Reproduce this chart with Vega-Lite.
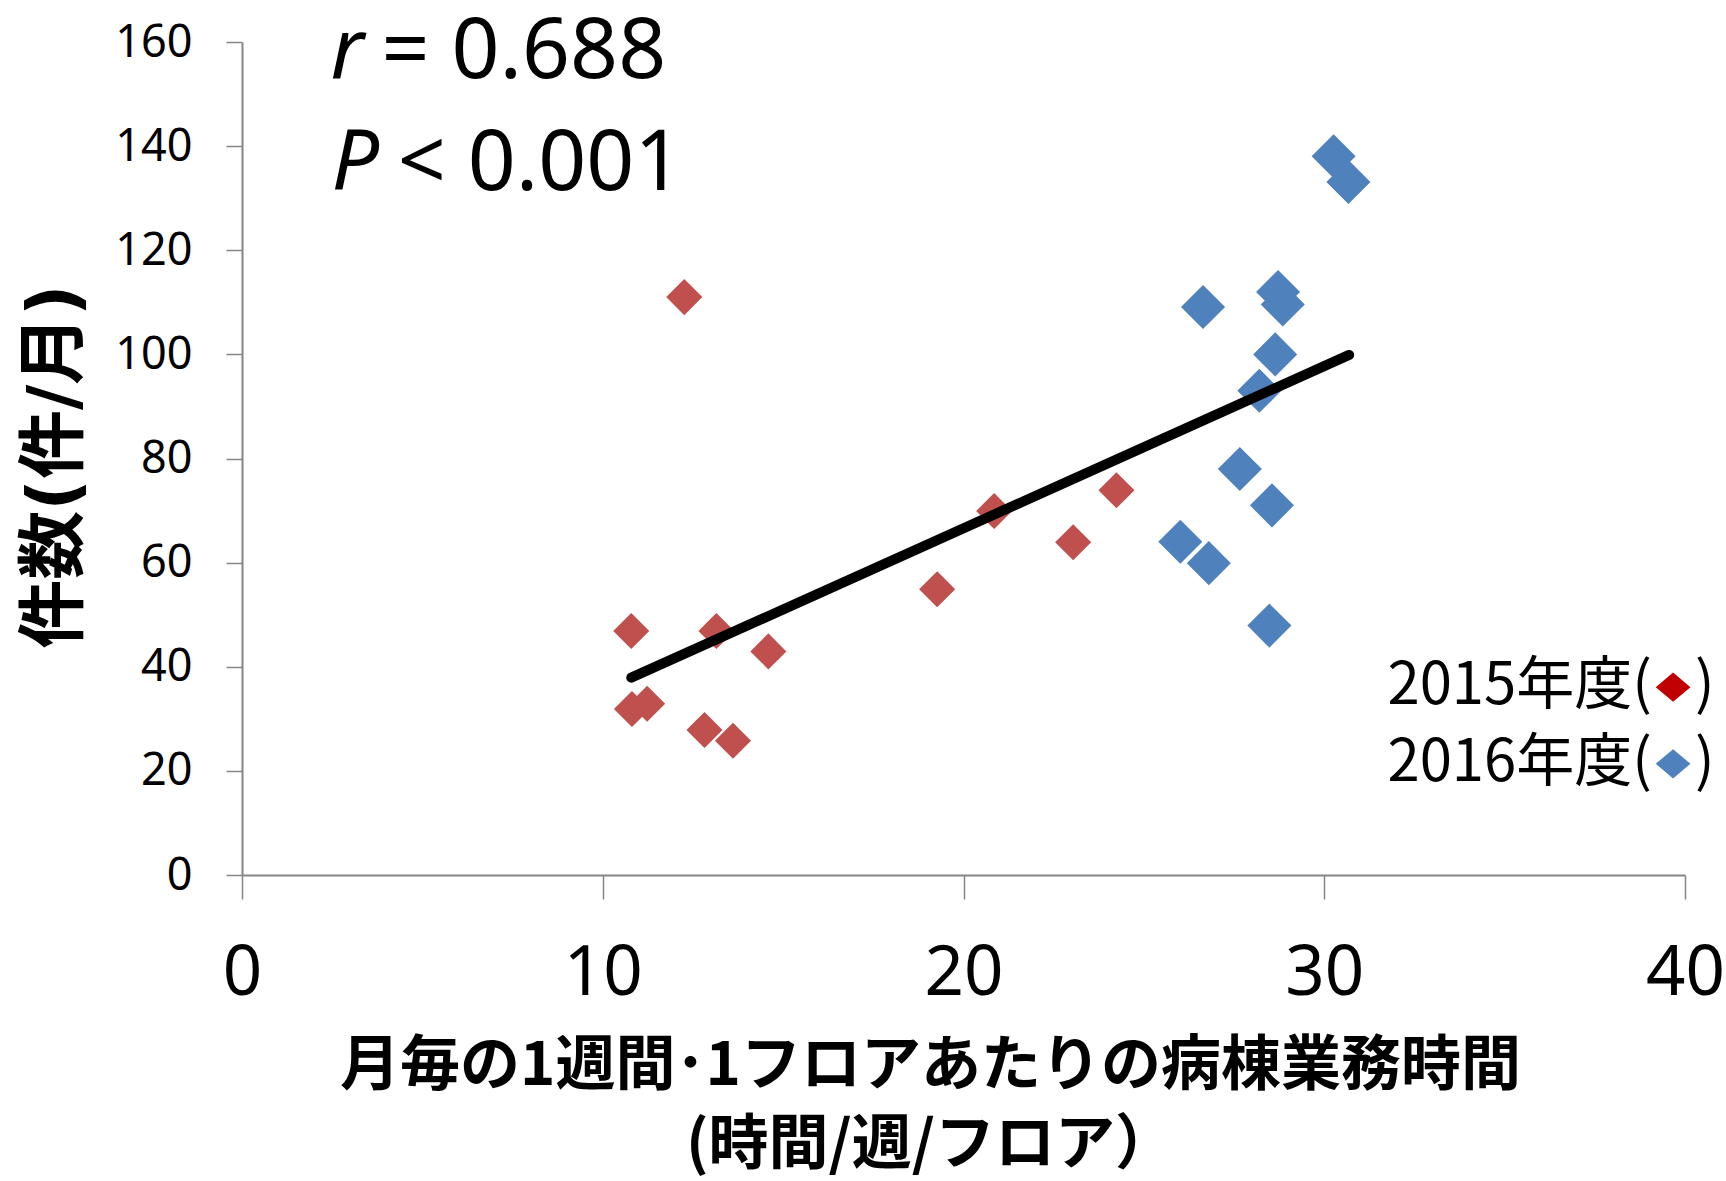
{
  "$schema": "https://vega.github.io/schema/vega-lite/v6.json",
  "width": 1443,
  "height": 833,
  "autosize": {"type": "none"},
  "padding": {"left": 242, "top": 42, "right": 41, "bottom": 306},
  "background": "white",
  "config": {"view": {"stroke": null}},
  "datasets": {
    "points": [
      {"x": 12.26, "y": 111.0, "year": "2015"},
      {"x": 10.79, "y": 46.85, "year": "2015"},
      {"x": 13.15, "y": 46.85, "year": "2015"},
      {"x": 14.59, "y": 42.95, "year": "2015"},
      {"x": 10.81, "y": 31.9, "year": "2015"},
      {"x": 11.23, "y": 32.9, "year": "2015"},
      {"x": 12.82, "y": 27.85, "year": "2015"},
      {"x": 13.61, "y": 25.8, "year": "2015"},
      {"x": 19.27, "y": 54.9, "year": "2015"},
      {"x": 20.85, "y": 69.9, "year": "2015"},
      {"x": 23.04, "y": 63.9, "year": "2015"},
      {"x": 24.24, "y": 73.9, "year": "2015"},
      {"x": 30.26, "y": 138.05, "year": "2016"},
      {"x": 30.67, "y": 133.1, "year": "2016"},
      {"x": 26.64, "y": 109.1, "year": "2016"},
      {"x": 28.72, "y": 112.0, "year": "2016"},
      {"x": 28.85, "y": 109.6, "year": "2016"},
      {"x": 28.64, "y": 100.0, "year": "2016"},
      {"x": 28.2, "y": 93.0, "year": "2016"},
      {"x": 27.66, "y": 78.0, "year": "2016"},
      {"x": 28.55, "y": 71.0, "year": "2016"},
      {"x": 26.01, "y": 64.0, "year": "2016"},
      {"x": 26.8, "y": 59.9, "year": "2016"},
      {"x": 28.48, "y": 47.9, "year": "2016"}
    ],
    "fit": [
      {"x": 10.79, "y": 37.9},
      {"x": 30.69, "y": 99.9}
    ],
    "italicNotes": [
      {"t": "r", "x": 2.45, "y": 153.0},
      {"t": "P", "x": 2.48, "y": 131.6}
    ],
    "plainNotes": [
      {"t": "= 0.688", "x": 3.87, "y": 153.0},
      {"t": "< 0.001", "x": 4.32, "y": 131.6}
    ],
    "legendLeft": [
      {"t": "2015年度(", "x": 39.08, "y": 32.9},
      {"t": "2016年度(", "x": 39.08, "y": 18.15}
    ],
    "legendRight": [
      {"t": ")", "x": 40.28, "y": 32.9},
      {"t": ")", "x": 40.28, "y": 18.15}
    ],
    "legend2015": [{"x": 39.67, "y": 36.07}],
    "legend2016": [{"x": 39.67, "y": 21.36}]
  },
  "layer": [
    {
      "data": {"name": "points"},
      "mark": {"type": "point", "shape": "diamond", "filled": true, "opacity": 1},
      "encoding": {
        "x": {
          "field": "x", "type": "quantitative",
          "scale": {"domain": [0, 40], "nice": false, "zero": false},
          "axis": {
            "values": [0, 10, 20, 30, 40],
            "grid": false,
            "domainColor": "#868686", "domainWidth": 2,
            "tickColor": "#868686", "tickWidth": 1.5, "tickSize": 24,
            "labelFont": "Liberation Sans Narrow, Noto Sans", "labelFontSize": 69, "labelColor": "black",
            "labelBaseline": "alphabetic", "labelPadding": 95,
            "labelFlush": false, "labelOverlap": false,
            "title": ["月毎の1週間･1フロアあたりの病棟業務時間", "(時間/週/フロア）"],
            "titleFont": "Noto Sans CJK JP", "titleFontWeight": "bold", "titleFontSize": 60,
            "titleColor": "black", "titleLineHeight": 79,
            "titleAlign": "center", "titleBaseline": "top",
            "titleX": 688, "titleY": 162
          }
        },
        "y": {
          "field": "y", "type": "quantitative",
          "scale": {"domain": [0, 160], "nice": false, "zero": false},
          "axis": {
            "values": [0, 20, 40, 60, 80, 100, 120, 140, 160],
            "grid": false,
            "domainColor": "#868686", "domainWidth": 2,
            "tickColor": "#868686", "tickWidth": 1.5, "tickSize": 16,
            "labelFont": "Noto Sans", "labelFontSize": 45, "labelColor": "black",
            "labelPadding": 34, "labelOverlap": false,
            "title": "件数(件/月)",
            "titleFont": "DejaVu Sans, Noto Sans CJK JP", "titleFontWeight": "bold", "titleFontSize": 69,
            "titleColor": "black", "titleAngle": 270,
            "titleAlign": "center", "titleBaseline": "middle",
            "titleX": -187, "titleY": 424
          }
        },
        "color": {
          "field": "year", "type": "nominal",
          "scale": {"domain": ["2015", "2016"], "range": ["#C0504D", "#4F81BD"]},
          "legend": null
        },
        "size": {
          "field": "year", "type": "ordinal",
          "scale": {"domain": ["2015", "2016"], "range": [1300, 1940]},
          "legend": null
        }
      }
    },
    {
      "data": {"name": "fit"},
      "mark": {"type": "line", "color": "black", "strokeWidth": 10, "strokeCap": "round"},
      "encoding": {
        "x": {"field": "x", "type": "quantitative"},
        "y": {"field": "y", "type": "quantitative"}
      }
    },
    {
      "data": {"name": "italicNotes"},
      "mark": {"type": "text", "font": "Noto Sans", "fontStyle": "italic", "fontSize": 84, "align": "left", "baseline": "alphabetic", "color": "black"},
      "encoding": {
        "x": {"field": "x", "type": "quantitative"},
        "y": {"field": "y", "type": "quantitative"},
        "text": {"field": "t"}
      }
    },
    {
      "data": {"name": "plainNotes"},
      "mark": {"type": "text", "font": "Noto Sans", "fontSize": 84, "align": "left", "baseline": "alphabetic", "color": "black"},
      "encoding": {
        "x": {"field": "x", "type": "quantitative"},
        "y": {"field": "y", "type": "quantitative"},
        "text": {"field": "t"}
      }
    },
    {
      "data": {"name": "legendLeft"},
      "mark": {"type": "text", "font": "Noto Sans CJK JP", "fontSize": 58, "align": "right", "baseline": "alphabetic", "color": "black"},
      "encoding": {
        "x": {"field": "x", "type": "quantitative"},
        "y": {"field": "y", "type": "quantitative"},
        "text": {"field": "t"}
      }
    },
    {
      "data": {"name": "legendRight"},
      "mark": {"type": "text", "font": "Noto Sans CJK JP", "fontSize": 58, "align": "left", "baseline": "alphabetic", "color": "black"},
      "encoding": {
        "x": {"field": "x", "type": "quantitative"},
        "y": {"field": "y", "type": "quantitative"},
        "text": {"field": "t"}
      }
    },
    {
      "data": {"name": "legend2015"},
      "mark": {"type": "point", "shape": "M-1,0L0,-0.845L1,0L0,0.845Z", "filled": true, "opacity": 1, "size": 1204, "color": "#C00000"},
      "encoding": {
        "x": {"field": "x", "type": "quantitative"},
        "y": {"field": "y", "type": "quantitative"}
      }
    },
    {
      "data": {"name": "legend2016"},
      "mark": {"type": "point", "shape": "M-1,0L0,-0.845L1,0L0,0.845Z", "filled": true, "opacity": 1, "size": 1204, "color": "#4F81BD"},
      "encoding": {
        "x": {"field": "x", "type": "quantitative"},
        "y": {"field": "y", "type": "quantitative"}
      }
    }
  ]
}
